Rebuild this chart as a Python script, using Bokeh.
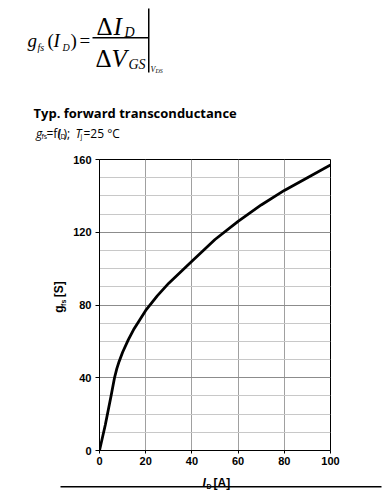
import math
from bokeh.plotting import figure
from bokeh.layouts import column, row
from bokeh.models import Range1d, FixedTicker, BoxAnnotation, ColumnDataSource
from bokeh.core.properties import value
from bokeh.embed import file_html
from bokeh.resources import INLINE

# ---- data ----
id_a = [0, 2.5, 5, 6.5, 7.5, 8.5, 10, 12.5, 15, 20, 25, 30, 40, 50, 60, 70, 80, 90, 100]
gfs_s = [0, 14, 30, 40, 45, 49, 54, 61, 67, 77, 85, 92, 104, 116, 126, 135, 143, 150, 157]
x_ticks = [0, 20, 40, 60, 80, 100]
y_ticks = [0, 40, 80, 120, 160]
y_minor = [10, 20, 30, 50, 60, 70, 90, 100, 110, 130, 140, 150]

BASE_K = 0.28  # empirical baseline correction (fraction of font size)


def text_fig(x0, y0, w, h):
    """A blank figure whose data coordinates equal page pixel coordinates."""
    f = figure(width=w, height=h, x_range=Range1d(x0, x0 + w), y_range=Range1d(y0 + h, y0),
               output_backend="svg", toolbar_location=None,
               x_axis_location=None, y_axis_location=None,
               min_border=0, min_border_left=0, min_border_right=0,
               min_border_top=0, min_border_bottom=0)
    f.grid.visible = False
    f.outline_line_color = None
    f.background_fill_color = "white"
    f.border_fill_color = "white"
    return f


def lab(f, text, rx, ry, size, font="Liberation Serif", style="normal", angle=0.0):
    if angle == 0.0:
        ry = ry - BASE_K * size
    else:
        rx = rx - BASE_K * size
    f.text(x=[rx], y=[ry], text=[text], text_font=value(font),
           text_font_size=value(f"{size}px"), text_font_style=style,
           text_color="black", text_baseline="alphabetic", text_align="left", angle=angle)


def box(f, l, r, t, b):
    f.add_layout(BoxAnnotation(left=l, right=r, top=t, bottom=b,
                               fill_color="black", fill_alpha=1, line_color=None))


W, H = 389, 493

# ---------------- header (formula, title) ----------------
hdr = text_fig(0, 0, W, 151)
lab(hdr, "g", 27, 45, 19, style="italic")
lab(hdr, "fs", 37, 50, 10, style="italic")
lab(hdr, "(", 47, 45, 19)
lab(hdr, "I", 53, 45, 19, style="italic")
lab(hdr, "D", 62, 50, 10, style="italic")
lab(hdr, ")", 70, 45, 19)
lab(hdr, "=", 79, 45, 19)
lab(hdr, "\u0394", 96, 33, 25)
lab(hdr, "I", 113, 33, 25, style="italic")
lab(hdr, "D", 124, 36, 14, style="italic")
box(hdr, 92, 148, 36.5, 38)
lab(hdr, "\u0394", 95, 65, 25)
lab(hdr, "V", 111, 65, 25, style="italic")
lab(hdr, "GS", 128, 68, 14, style="italic")
box(hdr, 147.5, 149, 8, 72)
lab(hdr, "V", 150, 71, 8, style="italic")
lab(hdr, "DS", 155, 72, 6, style="italic")

lab(hdr, "Typ. forward transconductance", 33, 116.5, 13, font="Open Sans", style="bold")
lab(hdr, "g", 35.5, 136, 12, font="Open Sans", style="italic")
lab(hdr, "fs", 41, 138, 7, font="Open Sans")
lab(hdr, "=f(", 46, 136, 12, font="Open Sans")
lab(hdr, "I", 57, 136, 12, font="Open Sans", style="italic")
lab(hdr, "D", 60, 138, 7, font="Open Sans")
lab(hdr, ");", 63, 136, 12, font="Open Sans")
lab(hdr, "T", 75, 136, 12, font="Open Sans", style="italic")
lab(hdr, "j", 80, 138, 7, font="Open Sans")
lab(hdr, "=25 \u00b0C", 83, 136, 12, font="Open Sans")

# ---------------- y-axis label column ----------------
ylf = text_fig(0, 151, 68, 319)
A = math.pi / 2
lab(ylf, "g", 62, 319, 12, font="Liberation Sans", style="bold", angle=A)
lab(ylf, "fs", 64.5, 311.5, 7, font="Liberation Sans", style="bold", angle=A)
lab(ylf, "[S]", 62, 302, 12, font="Liberation Sans", style="bold", angle=A)

# ---------------- main chart ----------------
p = figure(width=W - 68, height=319, x_range=Range1d(0, 100), y_range=Range1d(0, 160),
           output_backend="svg", toolbar_location=None,
           min_border_left=31, min_border_right=59, min_border_top=8, min_border_bottom=20)
p.background_fill_color = "white"
p.border_fill_color = "white"
p.outline_line_color = "black"
p.outline_line_width = 1

p.xaxis.ticker = FixedTicker(ticks=x_ticks)
p.yaxis.ticker = FixedTicker(ticks=y_ticks, minor_ticks=y_minor)
for ax in (p.xaxis[0], p.yaxis[0]):
    ax.axis_line_color = "black"
    ax.major_tick_line_color = "black"
    ax.major_tick_in = 0
    ax.major_tick_out = 4
    ax.minor_tick_line_color = None
    ax.major_label_text_font = "Liberation Sans"
    ax.major_label_text_font_style = "bold"
    ax.major_label_text_font_size = "11px"
    ax.major_label_text_color = "black"
    ax.major_label_standoff = 4
p.xaxis.major_tick_out = 3
p.xaxis.major_label_standoff = 3

p.xgrid.grid_line_color = "#a0a0a0"
p.xgrid.grid_line_width = 1
p.ygrid.grid_line_color = "#8c8c8c"
p.ygrid.grid_line_width = 1
p.ygrid.minor_grid_line_color = "#c8c8c8"
p.ygrid.minor_grid_line_width = 1

src = ColumnDataSource(dict(x=id_a, y=gfs_s))
p.line("x", "y", source=src, line_color="black", line_width=2.8, line_join="round")

# ---------------- footer (x-axis label and rule) ----------------
ftr = text_fig(0, 470, W, H - 470)
lab(ftr, "I", 202, 486, 12, font="Liberation Sans", style="bold italic")
lab(ftr, "D", 206, 488, 7, font="Liberation Sans", style="bold")
lab(ftr, "[A]", 213, 486, 12, font="Liberation Sans", style="bold")
box(ftr, 60, 381, 485.5, 487)

layout = column(hdr, row(ylf, p, spacing=0), ftr, spacing=0)
open("out.html", "w").write(file_html(layout, INLINE))
